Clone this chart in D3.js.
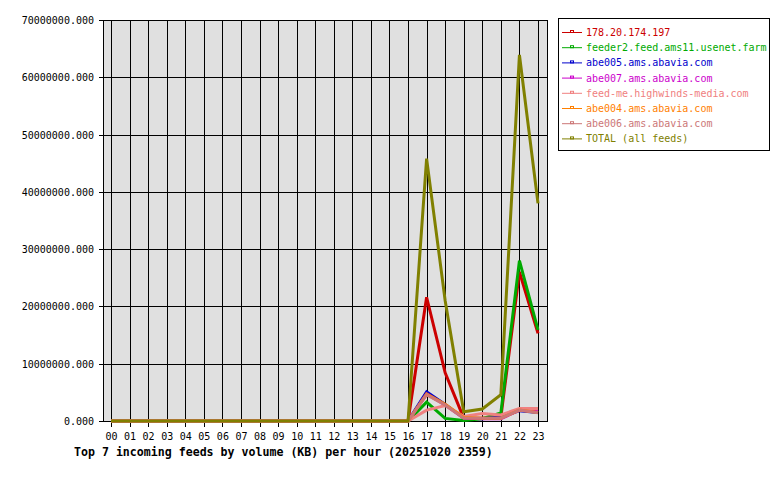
<!DOCTYPE html>
<html lang="en">
<head>
    <meta charset="UTF-8">
    <title>Top 7 incoming feeds</title>
    <script src="https://d3js.org/d3.v7.min.js"></script>
    <style>
        body { margin: 0; background: #fff; }
        text { font-family: "DejaVu Sans Mono", monospace; }
        .series { fill: none; stroke-width: 3; stroke-linejoin: miter; }
    </style>
</head>
<body>
    <div id="chart"></div>
    <script>
        // hour labels
        var hours = ["00","01","02","03","04","05","06","07","08","09","10","11",
                     "12","13","14","15","16","17","18","19","20","21","22","23"];

        var feedNames = ["178.20.174.197", "feeder2.feed.ams11.usenet.farm", "abe005.ams.abavia.com",
                         "abe007.ams.abavia.com", "feed-me.highwinds-media.com", "abe004.ams.abavia.com",
                         "abe006.ams.abavia.com", "TOTAL (all feeds)"];
        var feedColors = ["#cc0000", "#00aa00", "#0000cc", "#cc00cc", "#f08080", "#ff8000", "#cc7777", "#808000"];

        // KB per hour
        var z16 = [0,0,0,0,0,0,0,0,0,0,0,0,0,0,0,0,0];
        var red     = z16.concat([21600000, 8400000, 500000, 500000, 700000, 26000000, 15300000]);
        var green   = z16.concat([3300000, 450000, 100000, 400000, 1400000, 28000000, 15900000]);
        var blue    = z16.concat([5100000, 2900000, 500000, 400000, 700000, 1800000, 1500000]);
        var magenta = z16.concat([4700000, 2800000, 500000, 400000, 400000, 1900000, 1600000]);
        var pink    = z16.concat([1900000, 2700000, 800000, 1300000, 1050000, 2200000, 2200000]);
        var orange  = z16.concat([4700000, 2900000, 600000, 500000, 500000, 1900000, 1500000]);
        var rosy    = z16.concat([4600000, 2800000, 500000, 500000, 500000, 1900000, 1450000]);
        var total   = z16.concat([45800000, 21000000, 1600000, 2100000, 4600000, 63900000, 38000000]);

        var yTicks = [0, 10000000, 20000000, 30000000, 40000000, 50000000, 60000000, 70000000];
        var title = "Top 7 incoming feeds by volume (KB) per hour (20251020 2359)";

        var allSeries = [red, green, blue, magenta, pink, orange, rosy, total];

        var W = 780, H = 480;
        var plot = {left: 103, right: 547, top: 20, bottom: 421};

        var svg = d3.select("#chart").append("svg")
            .attr("width", W)
            .attr("height", H)
            .style("display", "block");

        var x = d3.scalePoint().domain(hours).range([111, 538]);
        var y = d3.scaleLinear().domain([0, 70000000]).range([plot.bottom, plot.top]);

        // plot background
        svg.append("rect")
            .attr("x", plot.left + 0.5).attr("y", plot.top + 0.5)
            .attr("width", plot.right - plot.left).attr("height", plot.bottom - plot.top)
            .attr("fill", "#e0e0e0").attr("stroke", "#000");

        // grid
        svg.append("g").selectAll("line").data(hours).join("line")
            .attr("x1", function(d) { return Math.round(x(d)) + 0.5; })
            .attr("x2", function(d) { return Math.round(x(d)) + 0.5; })
            .attr("y1", plot.top).attr("y2", plot.bottom + 6)
            .attr("stroke", "#000");
        svg.append("g").selectAll("line").data(yTicks).join("line")
            .attr("x1", plot.left - 4).attr("x2", plot.right)
            .attr("y1", function(d) { return Math.round(y(d)) + 0.5; })
            .attr("y2", function(d) { return Math.round(y(d)) + 0.5; })
            .attr("stroke", "#000");

        // axis labels
        svg.append("g").selectAll("text").data(yTicks).join("text")
            .attr("x", 94)
            .attr("y", function(d) { return y(d) + 4; })
            .attr("text-anchor", "end")
            .attr("font-size", "10px")
            .text(function(d) { return d3.format(".3f")(d); });
        svg.append("g").selectAll("text").data(hours).join("text")
            .attr("x", function(d) { return x(d) + 0.5; })
            .attr("y", 440)
            .attr("text-anchor", "middle")
            .attr("font-size", "10px")
            .text(function(d) { return d; });

        // series lines
        var line = d3.line()
            .x(function(d, i) { return x(hours[i]); })
            .y(function(d) { return y(d); });

        svg.append("g").selectAll("path").data(allSeries).join("path")
            .attr("class", "series")
            .attr("stroke", function(d, i) { return feedColors[i]; })
            .attr("d", line);

        // title
        svg.append("text")
            .attr("x", 74).attr("y", 456)
            .attr("font-size", "11.6px")
            .attr("font-weight", "bold")
            .text(title);

        // legend
        var legend = svg.append("g");
        legend.append("rect")
            .attr("x", 558.5).attr("y", 18.5)
            .attr("width", 211).attr("height", 132)
            .attr("fill", "#fff").attr("stroke", "#000");
        var items = legend.selectAll("g.item").data(feedNames).join("g")
            .attr("class", "item")
            .attr("transform", function(d, i) { return "translate(0," + (32 + i * 15.2) + ")"; });
        items.append("line")
            .attr("x1", 562).attr("x2", 582).attr("y1", 0.5).attr("y2", 0.5)
            .attr("stroke", function(d, i) { return feedColors[i]; });
        items.append("rect")
            .attr("x", 570.5).attr("y", -1.5).attr("width", 3).attr("height", 2)
            .attr("fill", "none")
            .attr("stroke", function(d, i) { return feedColors[i]; });
        items.append("text")
            .attr("x", 586).attr("y", 4)
            .attr("font-size", "10px")
            .attr("fill", function(d, i) { return feedColors[i]; })
            .text(function(d) { return d; });
    </script>
</body>
</html>
